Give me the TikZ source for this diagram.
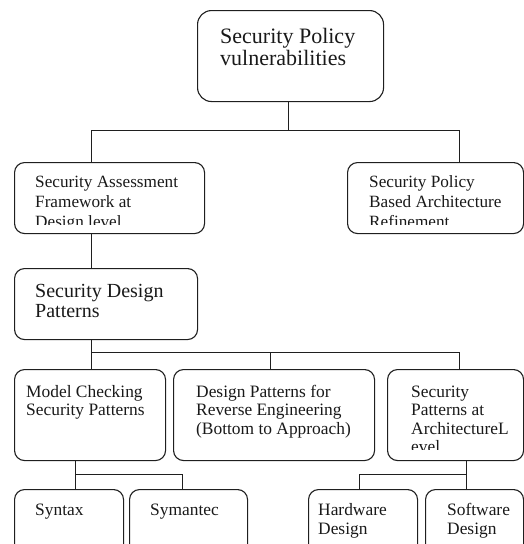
\documentclass[tikz,border=0pt]{standalone}
\usepackage{fontspec}
\setmainfont{Liberation Serif}
\begin{document}
\begin{tikzpicture}[x=1pt,y=-1pt,
  box/.style={draw=black!88, line width=1.1pt, rounded corners=10pt, anchor=north west, inner sep=0pt},
  link/.style={draw=black!88, line width=1pt},
  lbl/.style={anchor=base west, inner sep=0pt, text=black!90}]
\useasboundingbox (0,0) rectangle (524,544);
\clip (0,0) rectangle (524,544);
% boxes
\node[box, rounded corners=14pt, minimum width=186pt, minimum height=91pt] (top) at (197,10) {};
\node[box, minimum width=190pt, minimum height=71pt] (sa) at (14,162) {};
\node[box, minimum width=176pt, minimum height=71pt] (pol) at (347,162) {};
\node[box, minimum width=183pt, minimum height=71pt] (sdp) at (14,268) {};
\node[box, minimum width=151pt, minimum height=91pt] (mc) at (14,369) {};
\node[box, minimum width=201pt, minimum height=91pt] (dp) at (173,369) {};
\node[box, minimum width=136pt, minimum height=91pt] (sp) at (387,369) {};
\node[box, minimum width=109pt, minimum height=80pt] (syn) at (14,489) {};
\node[box, minimum width=118pt, minimum height=80pt] (sym) at (129,489) {};
\node[box, minimum width=109pt, minimum height=80pt] (hw) at (308,489) {};
\node[box, minimum width=98pt, minimum height=80pt] (sw) at (425,489) {};
% texts
\node[lbl] (ttop) at (220,43) {\fontsize{22}{22}\selectfont\vtop{\hbox{Security Policy}\hbox{vulnerabilities}}};
\begin{scope}
\clip (14,162) rectangle (523,224);
\node[lbl] (tsa) at (35,187) {\fontsize{17.2}{20}\selectfont\vtop{\hbox{Security Assessment}\hbox{Framework at}\hbox{Design level}}};
\node[lbl] (tpol) at (369,187) {\fontsize{17.2}{20}\selectfont\vtop{\hbox{Security Policy}\hbox{Based Architecture}\hbox{Refinement}}};
\end{scope}
\node[lbl] (tsdp) at (35,297) {\fontsize{20}{20}\selectfont\vtop{\hbox{Security Design}\hbox{Patterns}}};
\node[lbl] (tmc) at (26,397) {\fontsize{17.4}{18.5}\selectfont\vtop{\hbox{Model Checking}\hbox{Security Patterns}}};
\node[lbl] (tdp) at (196,397) {\fontsize{17.4}{18.5}\selectfont\vtop{\hbox{Design Patterns for}\hbox{Reverse Engineering}\hbox{(Bottom to Approach)}}};
\begin{scope}
\clip (387,369) rectangle (523,449.5);
\node[lbl] (tsp) at (411,397) {\fontsize{17.4}{18.5}\selectfont\vtop{\hbox{Security}\hbox{Patterns at}\hbox{ArchitectureL}\hbox{evel}}};
\end{scope}
\node[lbl] (tsyn) at (35,515) {\fontsize{17.4}{19}\selectfont Syntax};
\node[lbl] (tsym) at (150,515) {\fontsize{17.4}{19}\selectfont Symantec};
\node[lbl] (thw) at (318,515) {\fontsize{17.4}{19}\selectfont\vtop{\hbox{Hardware}\hbox{Design}}};
\node[lbl] (tsw) at (447,515) {\fontsize{17.4}{19}\selectfont\vtop{\hbox{Software}\hbox{Design}}};
% connectors
\coordinate (j1) at (288,130);
\coordinate (j1L) at (91,130);
\coordinate (j1R) at (459,130);
\draw[link] (top.south -| j1) -- (j1);
\draw[link] (sa.north -| j1L) -- (j1L) -- (j1R) -- (pol.north -| j1R);
\draw[link] (sa.south -| j1L) -- (sdp.north -| j1L);
\coordinate (j2L) at (91,352);
\coordinate (j2M) at (270,352);
\coordinate (j2R) at (459,352);
\draw[link] (sdp.south -| j2L) -- (mc.north -| j2L);
\draw[link] (j2L) -- (j2R) -- (sp.north -| j2R);
\draw[link] (j2M) -- (dp.north -| j2M);
\coordinate (j3L) at (75,474);
\coordinate (j3R) at (182,474);
\draw[link] (mc.south -| j3L) -- (syn.north -| j3L);
\draw[link] (j3L) -- (j3R) -- (sym.north -| j3R);
\coordinate (j4R) at (466,474);
\coordinate (j4L) at (359,474);
\draw[link] (sp.south -| j4R) -- (sw.north -| j4R);
\draw[link] (j4R) -- (j4L) -- (hw.north -| j4L);
\end{tikzpicture}
\end{document}
